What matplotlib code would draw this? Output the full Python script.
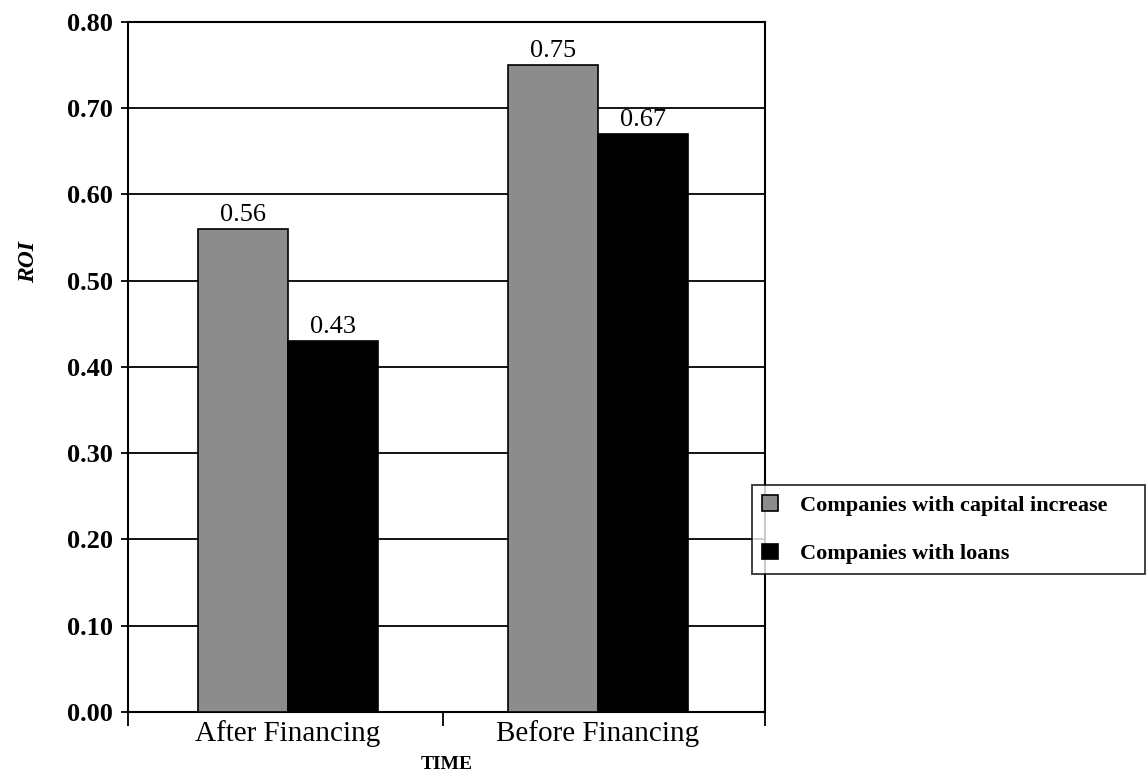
import matplotlib.pyplot as plt
import numpy as np

# Data
categories = ["After Financing", "Before Financing"]
capital_increase = [0.56, 0.75]
loans = [0.43, 0.67]
series_labels = ["Companies with capital increase", "Companies with loans"]
yticks = [0.0, 0.1, 0.2, 0.3, 0.4, 0.5, 0.6, 0.7, 0.8]

plt.rcParams["font.family"] = ["Liberation Serif", "DejaVu Serif"]

fig = plt.figure(figsize=(11.48, 7.78), dpi=100)
ax = fig.add_axes([0.1115, 0.085, 0.555, 0.887])

x = np.arange(len(categories))
w = 0.29
b1 = ax.bar(x - w / 2, capital_increase, w, color="#8c8c8c", edgecolor="black",
            linewidth=1.2, label=series_labels[0], zorder=3)
b2 = ax.bar(x + w / 2, loans, w, color="black", edgecolor="black",
            linewidth=1.2, label=series_labels[1], zorder=3)

for bars, vals in [(b1, capital_increase), (b2, loans)]:
    for r, v in zip(bars, vals):
        ax.text(r.get_x() + r.get_width() / 2, v + 0.003, f"{v:.2f}",
                ha="center", va="bottom", fontsize=19)

xmin, xmax = -0.516, 1.539
ax.set_xlim(xmin, xmax)
ax.set_ylim(0, 0.8)
ax.set_yticks(yticks)
ax.set_yticklabels([f"{t:.2f}" for t in yticks], fontsize=19, fontweight="bold")
ax.yaxis.grid(True, color="black", linewidth=1.3, zorder=0)

# category boundary ticks, labels in between
ax.set_xticks([xmin, 0.5, xmax])
ax.set_xticklabels([])
ax.set_xticks(x, minor=True)
ax.set_xticklabels(categories, minor=True, fontsize=21)
ax.tick_params(axis="x", which="major", length=10, width=1.3, direction="out")
ax.tick_params(axis="x", which="minor", length=0, pad=6)
ax.tick_params(axis="y", length=5, width=1.3, pad=6)

for s in ax.spines.values():
    s.set_linewidth(1.5)

ax.set_xlabel("TIME", fontsize=14, fontweight="bold", labelpad=6)
ax.set_ylabel("ROI", fontsize=17, fontweight="bold", style="italic")
ax.yaxis.set_label_coords(-0.14, 0.652)

# legend box stretched to the width seen in the original
leg = fig.legend(loc="center left", mode="expand",
                 bbox_to_anchor=(752 / 1148, 0.319, 393 / 1148, 0.0),
                 prop={"size": 16, "weight": "bold"}, frameon=True,
                 fancybox=False, edgecolor="black", handlelength=0.7,
                 handleheight=0.7, handletextpad=1.0, labelspacing=1.25,
                 borderpad=0.45, borderaxespad=0)
leg.get_frame().set_linewidth(1.3)

fig.savefig("out.png", dpi=100)
